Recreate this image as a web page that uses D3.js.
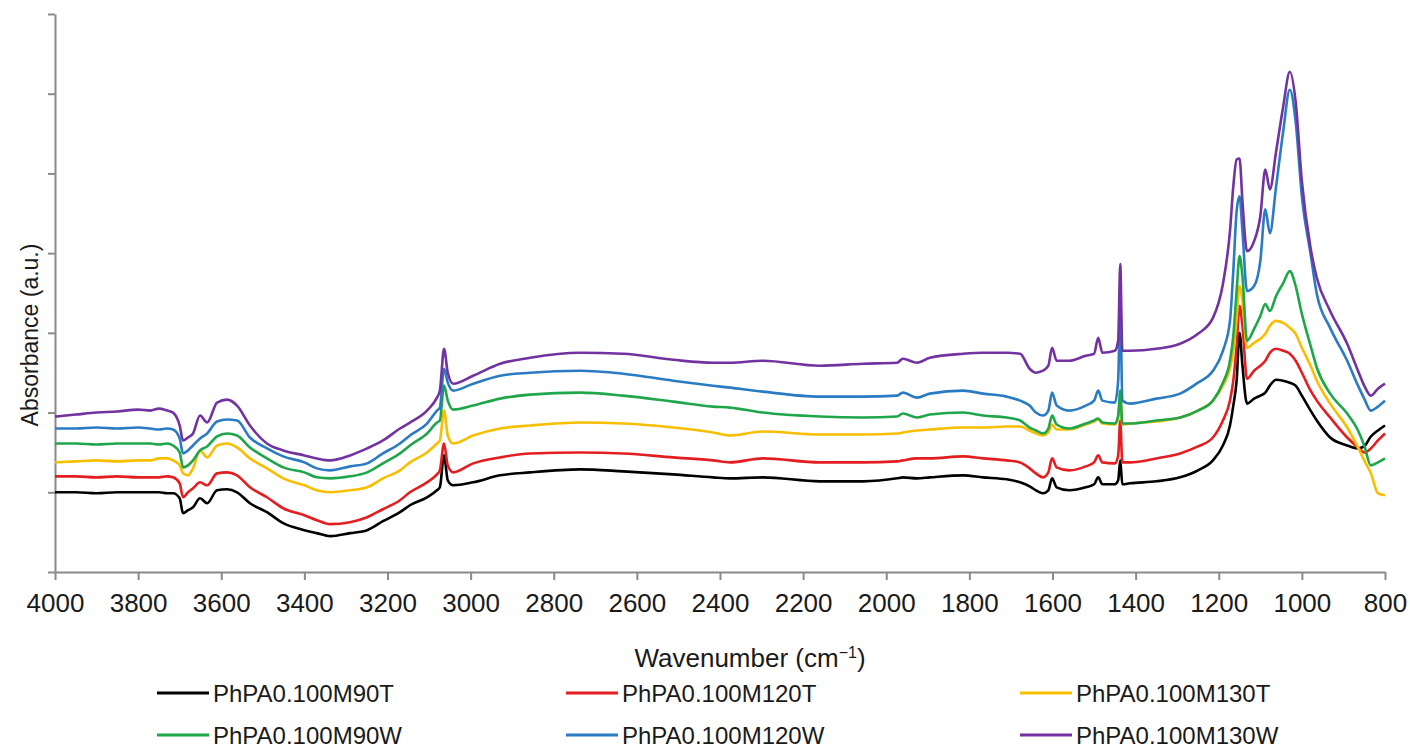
<!DOCTYPE html>
<html>
<head>
<meta charset="utf-8">
<script src="https://cdn.jsdelivr.net/npm/d3@7"></script>
<style>
  body { margin: 0; background: #fff; }
  svg { display: block; font-family: "Liberation Sans", Arial, sans-serif; }
</style>
</head>
<body>
<div id="chart"></div>
<script>
"use strict";
// wavenumbers (cm-1), shared by all spectra
const wavenumbers = [
    4000, 3950, 3900, 3850, 3800, 3771, 3750, 3730, 3716, 3700,
    3692, 3680, 3668, 3651, 3634, 3610, 3586, 3562, 3531, 3490,
    3451, 3400, 3370, 3338, 3290, 3249, 3211, 3170, 3146, 3105,
    3081, 3074, 3064, 3055, 3042, 2994, 2929, 2857, 2737, 2633,
    2513, 2417, 2376, 2297, 2160, 2056, 1974, 1960, 1926, 1895,
    1815, 1767, 1710, 1678, 1655, 1640, 1623, 1610, 1601, 1590,
    1560, 1520, 1500, 1490, 1480, 1450, 1442, 1437, 1432, 1414,
    1350, 1293, 1250, 1214, 1190, 1173, 1165, 1157, 1150, 1143,
    1132, 1115, 1100, 1088, 1077, 1062, 1045, 1029, 1015, 1000,
    979, 964, 932, 891, 865, 850, 834, 817, 800
];
// absorbance, arbitrary units (offset stacked spectra)
const m90T = [
    80, 80, 79, 80, 80, 80, 80, 79, 79, 74,
    59, 62, 65, 74, 69, 82, 83, 80, 69, 60,
    49, 42, 39, 36, 39, 42, 51, 60, 67, 75,
    82, 85, 117, 92, 87, 90, 97, 100, 103, 101,
    98, 95, 94, 95, 91, 91, 94, 95, 94, 95,
    97, 95, 93, 90, 86, 82, 79, 82, 94, 85,
    82, 85, 88, 95, 88, 88, 92, 112, 88, 89,
    91, 95, 102, 112, 127, 147, 167, 192, 240, 207,
    169, 174, 177, 180, 187, 193, 192, 190, 187, 177,
    162, 152, 135, 127, 124, 126, 136, 142, 147
];
const m120T = [
    96, 96, 95, 96, 95, 95, 95, 96, 95, 89,
    75, 80, 84, 90, 87, 99, 100, 97, 85, 75,
    64, 57, 52, 48, 50, 55, 63, 72, 80, 90,
    98, 102, 129, 107, 100, 109, 115, 119, 120, 119,
    115, 112, 110, 114, 110, 110, 111, 112, 114, 114,
    116, 114, 112, 110, 104, 99, 95, 100, 114, 105,
    102, 106, 110, 117, 110, 109, 117, 152, 110, 110,
    114, 119, 126, 135, 152, 172, 192, 227, 267, 247,
    194, 202, 207, 212, 220, 224, 222, 219, 212, 200,
    182, 172, 155, 135, 125, 120, 124, 132, 139
];
const m130T = [
    110, 111, 112, 111, 112, 112, 114, 114, 112, 107,
    99, 97, 104, 122, 115, 127, 129, 125, 114, 104,
    94, 87, 82, 80, 82, 85, 94, 102, 110, 120,
    129, 132, 162, 137, 129, 137, 144, 147, 150, 149,
    145, 140, 137, 141, 138, 138, 139, 140, 142, 143,
    145, 145, 146, 146, 142, 139, 137, 140, 148, 143,
    143, 148, 151, 153, 149, 148, 154, 174, 148, 149,
    151, 155, 162, 172, 187, 204, 222, 254, 287, 272,
    225, 230, 234, 239, 247, 252, 250, 245, 239, 225,
    207, 192, 169, 145, 125, 112, 99, 79, 77
];
const m90W = [
    129, 129, 128, 129, 129, 129, 128, 129, 127, 120,
    105, 107, 112, 122, 126, 136, 139, 137, 125, 114,
    105, 100, 95, 94, 96, 100, 109, 119, 127, 139,
    150, 152, 187, 172, 163, 167, 174, 178, 180, 177,
    171, 166, 165, 160, 156, 155, 156, 159, 155, 158,
    160, 157, 155, 152, 145, 142, 139, 144, 157, 148,
    144, 149, 152, 154, 150, 149, 157, 182, 149, 149,
    152, 155, 162, 172, 190, 212, 237, 282, 317, 297,
    232, 244, 257, 269, 262, 277, 290, 302, 287, 259,
    227, 205, 179, 159, 142, 127, 107, 110, 114
];
const m120W = [
    144, 144, 145, 144, 145, 144, 143, 144, 143, 134,
    119, 122, 127, 134, 139, 151, 153, 152, 135, 124,
    116, 110, 104, 102, 106, 109, 119, 129, 137, 149,
    162, 165, 204, 190, 182, 189, 197, 200, 202, 199,
    192, 187, 185, 181, 176, 176, 177, 180, 175, 179,
    182, 179, 176, 172, 167, 160, 157, 162, 180, 167,
    162, 167, 172, 182, 172, 170, 192, 272, 172, 169,
    174, 179, 190, 202, 222, 252, 302, 362, 377, 342,
    282, 287, 312, 364, 340, 387, 442, 484, 452, 377,
    319, 279, 245, 212, 187, 174, 162, 166, 172
];
const m130W = [
    156, 158, 160, 161, 163, 162, 164, 162, 160, 147,
    132, 135, 139, 157, 150, 170, 173, 167, 147, 129,
    122, 117, 114, 112, 117, 124, 132, 144, 150, 162,
    175, 182, 224, 200, 189, 197, 209, 215, 220, 219,
    213, 210, 210, 212, 207, 209, 210, 214, 210, 215,
    219, 220, 220, 219, 204, 200, 202, 207, 225, 212,
    212, 217, 219, 235, 220, 222, 232, 309, 222, 222,
    224, 229, 239, 255, 289, 342, 387, 414, 415, 372,
    322, 332, 357, 404, 384, 422, 467, 502, 472, 392,
    325, 295, 262, 229, 202, 187, 177, 184, 189
];
const seriesNames = ["PhPA0.100M90T", "PhPA0.100M120T", "PhPA0.100M130T",
    "PhPA0.100M90W", "PhPA0.100M120W", "PhPA0.100M130W"];
const seriesValues = [m90T, m120T, m130T, m90W, m120W, m130W];
const seriesColors = ["#000000", "#e41e20", "#f7bf00", "#1fa64b", "#2a7bc1", "#7232a0"];
const xTicks = d3.range(4000, 799, -200);
const yTicks = d3.range(0, 561, 80);

const width = 1410, height = 748;
const plot = { left: 55, right: 1385, top: 14, bottom: 572 };

const svg = d3.select("#chart").append("svg")
    .attr("width", width)
    .attr("height", height)
    .attr("viewBox", `0 0 ${width} ${height}`);

const x = d3.scaleLinear().domain([4000, 800]).range([plot.left, plot.right]);
const y = d3.scaleLinear().domain([0, 560]).range([plot.bottom, plot.top]);

function styleAxis(g) {
    g.select(".domain").attr("stroke", "#8a8a8a").attr("stroke-width", 2);
    g.selectAll(".tick line").attr("stroke", "#8a8a8a").attr("stroke-width", 2);
    g.selectAll(".tick text").attr("fill", "#1a1a1a").style("font-size", "26px");
}

svg.append("g")
    .attr("transform", `translate(0,${plot.bottom})`)
    .call(d3.axisBottom(x).tickValues(xTicks).tickFormat(d3.format("d"))
        .tickSize(8).tickPadding(14).tickSizeOuter(0))
    .call(styleAxis);

svg.append("g")
    .attr("transform", `translate(${plot.left},0)`)
    .call(d3.axisLeft(y).tickValues(yTicks).tickFormat("").tickSize(7).tickSizeOuter(0))
    .call(styleAxis);

// spectra
const line = d3.line()
    .x((d, i) => x(wavenumbers[i]))
    .y(d => y(d))
    .curve(d3.curveMonotoneX);

svg.append("g").selectAll("path")
    .data(seriesValues)
    .join("path")
    .attr("fill", "none")
    .attr("stroke", (d, i) => seriesColors[i])
    .attr("stroke-width", 2.6)
    .attr("stroke-linejoin", "round")
    .attr("d", line);

// axis titles
svg.append("text")
    .attr("transform", "translate(38,335) rotate(-90)")
    .attr("text-anchor", "middle")
    .attr("fill", "#1a1a1a")
    .style("font-size", "23px")
    .text("Absorbance (a.u.)");

const xTitle = svg.append("text")
    .attr("x", 750)
    .attr("y", 667)
    .attr("text-anchor", "middle")
    .attr("fill", "#1a1a1a")
    .style("font-size", "26px");
xTitle.append("tspan").text("Wavenumber (cm");
xTitle.append("tspan").attr("dy", -9).style("font-size", "16px").text("\u22121");
xTitle.append("tspan").attr("dy", 9).text(")");

// legend, 3 columns x 2 rows
const legendCols = [157, 566, 1020];
const legendRows = [693, 735];
const legend = svg.append("g").selectAll("g")
    .data(seriesNames)
    .join("g")
    .attr("transform", (d, i) => `translate(${legendCols[i % 3]},${legendRows[Math.floor(i / 3)]})`);

legend.append("line")
    .attr("x1", 0).attr("x2", 52)
    .attr("stroke", (d, i) => seriesColors[i])
    .attr("stroke-width", 3);

legend.append("text")
    .attr("x", 56)
    .attr("dy", "0.36em")
    .attr("fill", "#1a1a1a")
    .style("font-size", "24px")
    .text(d => d);
</script>
</body>
</html>
